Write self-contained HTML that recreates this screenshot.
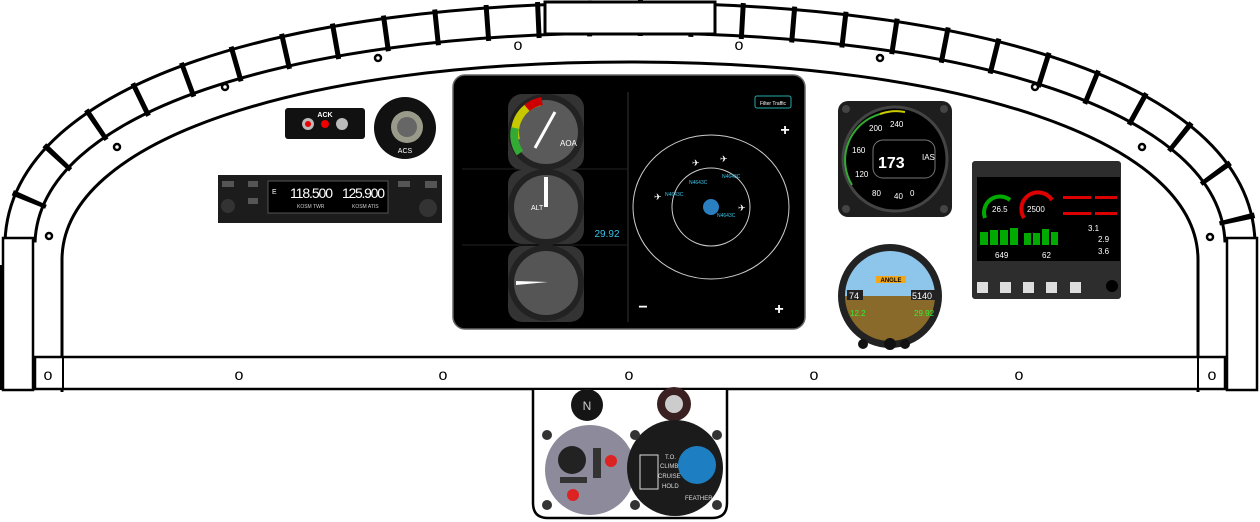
<!DOCTYPE html>
<html><head><meta charset="utf-8"><style>
html,body{margin:0;padding:0;background:#fff}
svg{display:block}
text{font-family:"Liberation Sans",sans-serif}
</style></head><body>
<svg width="1260" height="522" viewBox="0 0 1260 522" xmlns="http://www.w3.org/2000/svg">
<path d="M20,242 C25,95 295,18 630,18 C965,18 1235,95 1240,242" fill="none" stroke="#000" stroke-width="33"/>
<path d="M20,242 C25,95 295,18 630,18 C965,18 1235,95 1240,242" fill="none" stroke="#fff" stroke-width="27"/>
<path d="M20,242 C25,95 295,18 630,18 C965,18 1235,95 1240,242" fill="none" stroke="#000" stroke-width="36" stroke-dasharray="5 46" stroke-dashoffset="10"/>
<rect x="545" y="2" width="170" height="32" fill="#fff" stroke="#000" stroke-width="3"/>
<path d="M62,392 L62,260 C62,140 300,62 630,62 C960,62 1198,140 1198,260 L1198,392" fill="none" stroke="#000" stroke-width="3"/>
<rect x="3" y="238" width="30" height="152" fill="#fff" stroke="#000" stroke-width="2.5"/>
<rect x="1227" y="238" width="30" height="152" fill="#fff" stroke="#000" stroke-width="2.5"/>
<line x1="1" y1="265" x2="1" y2="390" stroke="#000" stroke-width="2"/>
<rect x="35" y="357" width="1190" height="32" fill="#fff" stroke="#000" stroke-width="2.5"/>
<line x1="63" y1="357" x2="63" y2="389" stroke="#000" stroke-width="2"/>
<line x1="1198" y1="357" x2="1198" y2="389" stroke="#000" stroke-width="2"/>
<g font-size="16" text-anchor="middle" fill="#000">
<text x="48" y="380">o</text><text x="239" y="380">o</text><text x="443" y="380">o</text><text x="629" y="380">o</text><text x="814" y="380">o</text><text x="1019" y="380">o</text><text x="1212" y="380">o</text>
<text x="518" y="50">o</text><text x="739" y="50">o</text>
</g>
<g fill="#fff" stroke="#000" stroke-width="2.5">
<circle cx="49" cy="236" r="3"/><circle cx="117" cy="147" r="3"/><circle cx="225" cy="87" r="3"/><circle cx="378" cy="58" r="3"/>
<circle cx="880" cy="58" r="3"/><circle cx="1035" cy="87" r="3"/><circle cx="1142" cy="147" r="3"/><circle cx="1210" cy="237" r="3"/>
</g>
<path d="M533,390 L533,503 Q533,518 548,518 L712,518 Q727,518 727,503 L727,390" fill="#fff" stroke="#000" stroke-width="2.5"/>

<rect x="285" y="108" width="80" height="31" rx="3" fill="#111"/>
<circle cx="308" cy="124" r="6" fill="#bbb"/><circle cx="308" cy="124" r="3" fill="#e00"/>
<circle cx="325" cy="124" r="4" fill="#e00"/>
<circle cx="342" cy="124" r="6" fill="#bbb"/>
<text x="325" y="117" font-size="7" fill="#fff" text-anchor="middle" font-weight="bold">ACK</text>
<circle cx="405" cy="128" r="31" fill="#111"/>
<circle cx="407" cy="127" r="16" fill="#9a9a8a"/><circle cx="407" cy="127" r="10" fill="#666"/>
<text x="405" y="153" font-size="7" fill="#fff" text-anchor="middle">ACS</text>
<rect x="218" y="175" width="224" height="48" fill="#1c1c1c"/>
<rect x="268" y="181" width="120" height="32" fill="#000" stroke="#555"/>
<text x="290" y="198" font-size="14" fill="#fff" textLength="43">118.500</text>
<text x="342" y="198" font-size="14" fill="#fff" textLength="43">125.900</text>
<text x="272" y="194" font-size="7" fill="#fff">E</text>
<text x="297" y="208" font-size="5" fill="#ccc">KOSM TWR</text>
<text x="352" y="208" font-size="5" fill="#ccc">KOSM ATIS</text>
<circle cx="228" cy="206" r="7" fill="#333"/><circle cx="428" cy="208" r="9" fill="#333"/>
<rect x="222" y="181" width="12" height="6" fill="#555"/><rect x="248" y="181" width="10" height="6" fill="#555"/><rect x="248" y="198" width="10" height="6" fill="#555"/>
<rect x="398" y="181" width="12" height="6" fill="#555"/><rect x="425" y="181" width="12" height="7" fill="#555"/>

<rect x="453" y="75" width="352" height="254" rx="12" fill="#000" stroke="#666" stroke-width="1.5"/>
<line x1="628" y1="92" x2="628" y2="322" stroke="#333"/>
<line x1="462" y1="169" x2="628" y2="169" stroke="#222"/><line x1="462" y1="245" x2="628" y2="245" stroke="#222"/>
<g fill="#333"><rect x="508" y="94" width="76" height="76" rx="14"/><rect x="508" y="170" width="76" height="74" rx="14"/><rect x="508" y="246" width="76" height="76" rx="14"/></g>
<g>
<circle cx="546" cy="132" r="38" fill="#222"/><circle cx="546" cy="132" r="32" fill="#5a5a5a"/>
<path d="M516,140 A31,31 0 0 1 540,102" fill="none" stroke="#c8c800" stroke-width="8"/>
<path d="M520,153 A31,31 0 0 1 515,128" fill="none" stroke="#3a3" stroke-width="8"/>
<path d="M527,108 A31,31 0 0 1 542,101" fill="none" stroke="#c00" stroke-width="8"/>
<line x1="535" y1="148" x2="555" y2="112" stroke="#fff" stroke-width="3"/>
<text x="560" y="146" font-size="8" fill="#fff">AOA</text>
<circle cx="546" cy="207" r="38" fill="#222"/><circle cx="546" cy="207" r="32" fill="#555"/>
<line x1="546" y1="207" x2="546" y2="177" stroke="#fff" stroke-width="4"/>
<text x="531" y="210" font-size="7" fill="#fff">ALT</text>
<circle cx="546" cy="283" r="38" fill="#222"/><circle cx="546" cy="283" r="32" fill="#555"/>
<path d="M516,281 L548,282 L516,285 Z" fill="#fff"/>
<text x="607" y="237" font-size="10" fill="#3bc3e8" text-anchor="middle">29.92</text>
</g>
<ellipse cx="711" cy="207" rx="78" ry="72" fill="none" stroke="#ccc"/>
<circle cx="711" cy="207" r="39" fill="none" stroke="#ccc"/>
<circle cx="711" cy="207" r="8" fill="#2a7fc0"/>
<rect x="755" y="96" width="36" height="12" rx="2" fill="none" stroke="#2aa"/>
<text x="773" y="105" font-size="5" fill="#fff" text-anchor="middle">Filter Traffic</text>
<g fill="#fff" font-size="16" font-weight="bold" text-anchor="middle"><text x="785" y="135">+</text><text x="779" y="314">+</text><text x="643" y="312">−</text></g>
<g fill="#3bc3e8" font-size="5"><text x="689" y="184">N4643C</text><text x="722" y="178">N4643C</text><text x="665" y="196">N4643C</text><text x="717" y="217">N4643C</text></g>
<g fill="#fff" font-size="9"><text x="692" y="166">✈</text><text x="720" y="162">✈</text><text x="654" y="200">✈</text><text x="738" y="211">✈</text></g>

<rect x="838" y="101" width="114" height="116" rx="10" fill="#1e1e1e"/>
<g fill="#444"><circle cx="846" cy="109" r="4"/><circle cx="944" cy="109" r="4"/><circle cx="846" cy="209" r="4"/><circle cx="944" cy="209" r="4"/></g>
<circle cx="895" cy="159" r="52" fill="#000" stroke="#444" stroke-width="3"/>
<path d="M852,185 A48,48 0 0 1 880,114" fill="none" stroke="#3a3" stroke-width="2"/>
<path d="M880,114 A48,48 0 0 1 905,112" fill="none" stroke="#cc0" stroke-width="2"/>
<rect x="873" y="140" width="62" height="38" rx="10" fill="#000" stroke="#777"/>
<text x="878" y="168" font-size="16" fill="#fff" font-weight="bold">173</text>
<text x="922" y="160" font-size="8" fill="#fff">IAS</text>
<g fill="#fff" font-size="8"><text x="869" y="131">200</text><text x="890" y="127">240</text><text x="852" y="153">160</text><text x="855" y="177">120</text><text x="872" y="196">80</text><text x="894" y="199">40</text><text x="910" y="196">0</text></g>
<circle cx="890" cy="296" r="52" fill="#222"/>
<path d="M845,296 A45,45 0 0 1 935,296 Z" fill="#8ec5ea"/>
<path d="M845,296 A45,45 0 0 0 935,296 Z" fill="#8a6a2a"/>
<rect x="876" y="276" width="30" height="7" fill="#f2a71a"/>
<text x="891" y="282" font-size="6" text-anchor="middle" font-weight="bold">ANGLE</text>
<rect x="847" y="290" width="16" height="10" fill="#222"/><text x="849" y="299" font-size="9" fill="#fff">74</text>
<rect x="911" y="290" width="24" height="10" fill="#222"/><text x="912" y="299" font-size="9" fill="#fff">5140</text>
<text x="850" y="316" font-size="8" fill="#3e3">12.2</text><text x="914" y="316" font-size="8" fill="#3e3">29.92</text>
<circle cx="863" cy="344" r="5" fill="#111"/><circle cx="890" cy="344" r="6" fill="#111"/><circle cx="905" cy="344" r="5" fill="#111"/>
<rect x="972" y="161" width="149" height="138" rx="3" fill="#2d2d2d"/>
<rect x="977" y="177" width="143" height="84" fill="#000"/>
<path d="M985,218 A16,16 0 0 1 1010,200" fill="none" stroke="#0a0" stroke-width="4"/>
<path d="M1024,218 A16,16 0 0 1 1052,200" fill="none" stroke="#d00" stroke-width="4"/>
<text x="992" y="212" font-size="8" fill="#fff">26.5</text><text x="1027" y="212" font-size="8" fill="#fff">2500</text>
<g fill="#0a0"><rect x="980" y="232" width="8" height="13"/><rect x="990" y="230" width="8" height="15"/><rect x="1000" y="230" width="8" height="15"/><rect x="1010" y="228" width="8" height="17"/><rect x="1024" y="233" width="7" height="12"/><rect x="1033" y="233" width="7" height="12"/><rect x="1042" y="229" width="7" height="16"/><rect x="1051" y="232" width="7" height="13"/></g>
<g fill="#d00"><rect x="1063" y="196" width="28" height="3"/><rect x="1095" y="196" width="22" height="3"/><rect x="1063" y="212" width="28" height="3"/><rect x="1095" y="212" width="22" height="3"/></g>
<text x="1088" y="231" font-size="8" fill="#fff">3.1</text><text x="1098" y="242" font-size="8" fill="#fff">2.9</text><text x="1098" y="254" font-size="8" fill="#fff">3.6</text>
<text x="995" y="258" font-size="8" fill="#fff">649</text><text x="1042" y="258" font-size="8" fill="#fff">62</text>
<g fill="#ddd"><rect x="977" y="282" width="11" height="11"/><rect x="1000" y="282" width="11" height="11"/><rect x="1023" y="282" width="11" height="11"/><rect x="1046" y="282" width="11" height="11"/><rect x="1070" y="282" width="11" height="11"/></g>
<circle cx="1112" cy="286" r="6" fill="#000"/>

<circle cx="587" cy="405" r="16" fill="#151515"/><text x="587" y="410" font-size="12" fill="#ccc" text-anchor="middle">N</text>
<circle cx="674" cy="404" r="17" fill="#3a2020"/><circle cx="674" cy="404" r="9" fill="#ccc"/>
<circle cx="590" cy="470" r="45" fill="#8d8a9b"/><circle cx="572" cy="460" r="14" fill="#222"/>
<rect x="593" y="448" width="8" height="30" fill="#333"/><circle cx="611" cy="461" r="6" fill="#d22"/><circle cx="573" cy="495" r="6" fill="#d22"/><rect x="560" y="477" width="27" height="6" fill="#333"/>
<circle cx="675" cy="468" r="48" fill="#1b1b1b"/>
<circle cx="697" cy="465" r="19" fill="#1d7fc1"/>
<rect x="640" y="455" width="18" height="34" fill="none" stroke="#ddd" stroke-width="1"/>
<g fill="#ddd" font-size="6"><text x="665" y="459">T.O.</text><text x="660" y="468">CLIMB</text><text x="658" y="478">CRUISE</text><text x="662" y="488">HOLD</text><text x="685" y="500">FEATHER</text></g>
<g fill="#333"><circle cx="547" cy="435" r="5"/><circle cx="635" cy="435" r="5"/><circle cx="547" cy="505" r="5"/><circle cx="635" cy="505" r="5"/><circle cx="717" cy="435" r="5"/><circle cx="717" cy="505" r="5"/></g>
</svg>
</body></html>
